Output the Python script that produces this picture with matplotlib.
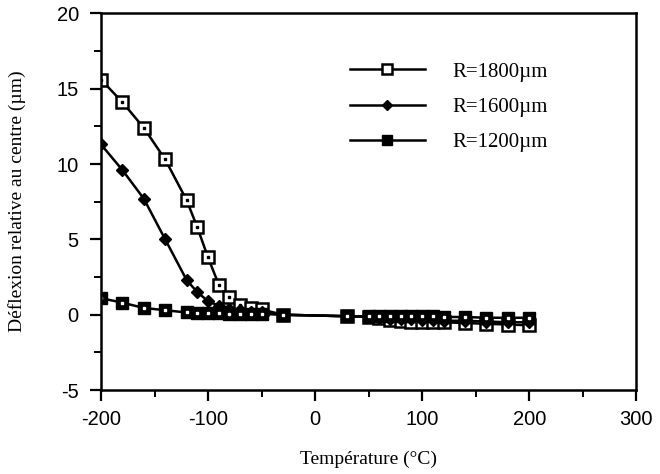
import matplotlib
matplotlib.use("Agg")
import matplotlib.pyplot as plt
from matplotlib.ticker import MultipleLocator

plt.rcParams["axes.unicode_minus"] = False

# temperatures (degC) shared by the three series
temps = [-200, -180, -160, -140, -120, -110, -100, -90, -80, -70, -60, -50, -30,
         30, 50, 60, 70, 80, 90, 100, 110, 120, 140, 160, 180, 200]

r1800 = [15.6, 14.1, 12.4, 10.3, 7.6, 5.8, 3.8, 2.0, 1.2, 0.65, 0.45, 0.35, 0.0,
         -0.1, -0.15, -0.2, -0.35, -0.4, -0.45, -0.45, -0.5, -0.5, -0.55, -0.6, -0.65, -0.7]
r1600 = [11.3, 9.6, 7.7, 5.0, 2.3, 1.5, 0.9, 0.6, 0.4, 0.3, 0.2, 0.15, 0.0,
         -0.1, -0.15, -0.2, -0.25, -0.3, -0.3, -0.35, -0.35, -0.4, -0.4, -0.45, -0.5, -0.5]
r1200 = [1.1, 0.8, 0.45, 0.3, 0.15, 0.12, 0.1, 0.1, 0.05, 0.05, 0.05, 0.05, 0.0,
         -0.1, -0.1, -0.1, -0.1, -0.1, -0.1, -0.1, -0.1, -0.15, -0.15, -0.2, -0.2, -0.2]

labels = ["R=1800\u00b5m", "R=1600\u00b5m", "R=1200\u00b5m"]

serif = ["Liberation Serif", "DejaVu Serif"]
sans = ["Liberation Sans", "DejaVu Sans"]

fig = plt.figure(figsize=(6.6, 4.74), dpi=100)
ax = fig.add_axes([0.153, 0.177, 0.811, 0.795])

lw = 1.8
l1, = ax.plot(temps, r1800, color="black", lw=lw, marker="s", ms=8,
              mfc="white", mec="black", mew=1.8, label=labels[0])
ax.plot(temps, r1800, ls="none", marker="s", ms=1.5, color="black")
l2, = ax.plot(temps, r1600, color="black", lw=lw, marker="D", ms=6.5,
              mfc="black", mec="black", label=labels[1])
l3, = ax.plot(temps, r1200, color="black", lw=lw, marker="s", ms=8,
              mfc="black", mec="black", label=labels[2])
ax.plot(temps, r1200, ls="none", marker="s", ms=1.5, color="white")

ax.set_xlim(-200, 300)
ax.set_ylim(-5, 20)
ax.xaxis.set_major_locator(MultipleLocator(100))
ax.xaxis.set_minor_locator(MultipleLocator(50))
ax.yaxis.set_major_locator(MultipleLocator(5))
ax.yaxis.set_minor_locator(MultipleLocator(2.5))
ax.tick_params(which="major", direction="out", length=8, width=1.6, labelsize=14.5, pad=6)
ax.tick_params(which="minor", direction="out", length=5, width=1.4)
ax.tick_params(axis="y", which="major", pad=8)
for lab in ax.get_xticklabels() + ax.get_yticklabels():
    lab.set_family(sans)
for s in ax.spines.values():
    s.set_linewidth(1.8)

ax.set_xlabel("Température (°C)", family=serif, fontsize=14, labelpad=16)
ax.set_ylabel("Déflexion relative au centre (µm)", family=serif, fontsize=14, labelpad=22)

leg = ax.legend(handles=[l1, l2, l3], loc="upper left", bbox_to_anchor=(0.43, 0.92),
                frameon=False, handlelength=3.6, handletextpad=1.3, labelspacing=0.75,
                markerscale=0.85, prop={"family": serif, "size": 15})

fig.savefig("out.png", dpi=100)
